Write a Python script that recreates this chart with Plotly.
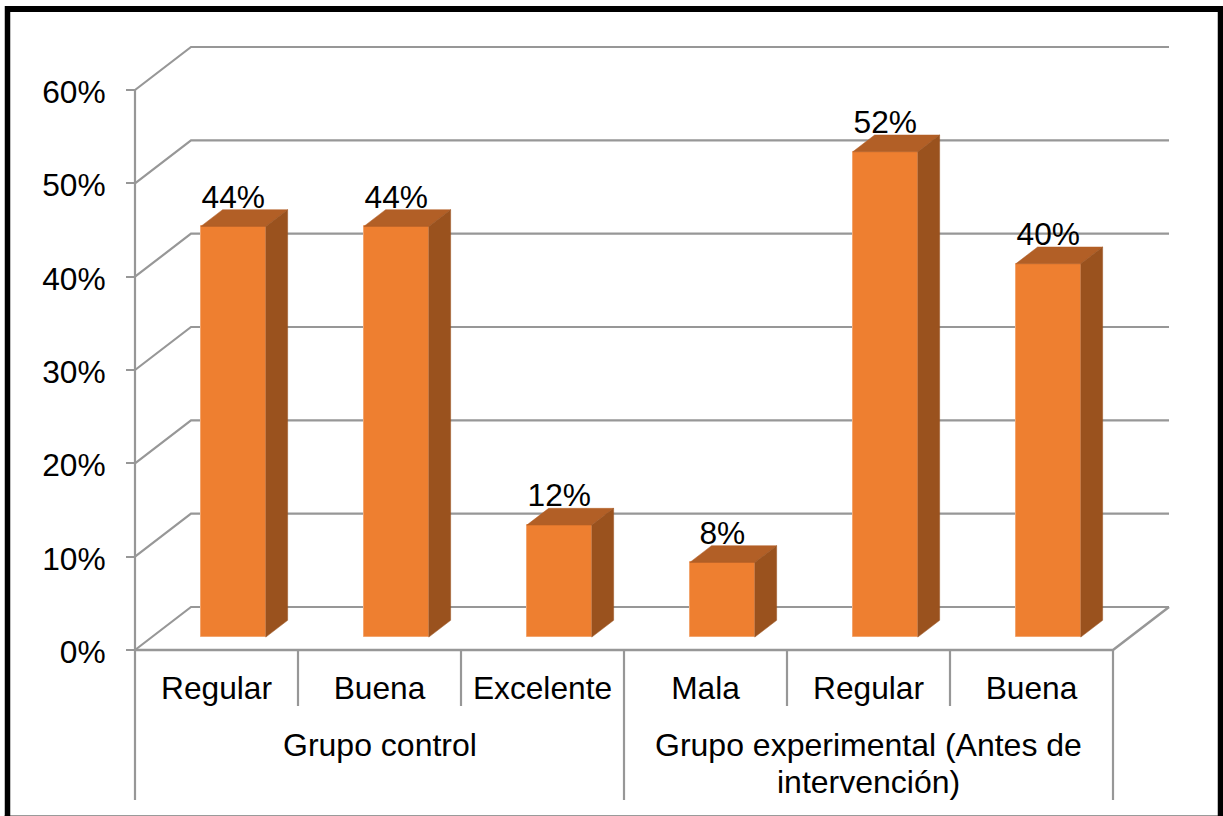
import plotly.graph_objects as go

# Chart data
categories = ["Regular", "Buena", "Excelente", "Mala", "Regular", "Buena"]
values = [44, 44, 12, 8, 52, 40]
group_names = [["Grupo control"], ["Grupo experimental (Antes de", "intervención)"]]
group_spans = [(0, 3), (3, 6)]
y_ticks = [0, 10, 20, 30, 40, 50, 60]

# Page and plot geometry
W, H = 1223, 816
X0_PX, CAT_PX = 135, 163          # left edge of the floor, width of one category
Y0_PX, UNIT_PX = 650, 28 / 3      # baseline, pixels per percentage point
DEPTH_X, DEPTH_Y = 56 / CAT_PX, 43 / UNIT_PX   # oblique projection of the full depth
BAR_W = 65 / CAT_PX
BAR_FRONT, BAR_BACK = 0.30, 0.69  # bar extent along the depth axis
LABEL_RISE = 10 / UNIT_PX         # value label centre above the top of the bar

ORANGE, TOP_SHADE, SIDE_SHADE = "#EE7F30", "#B25F26", "#9A521E"
EDGE = "#F2A56E"
GRID = "#979797"
FONT = "Liberation Sans"
FS = 31.7
FS_GROUP = 32


def proj(x, y, depth=0.0):
    """Project a point at a given depth onto the plane of the axes."""
    return x + depth * DEPTH_X, y + depth * DEPTH_Y


def seg(pts, width=2.2):
    return dict(
        type="path", layer="below", xref="x", yref="y",
        path="M" + "L".join(f"{x:.4f},{y:.4f}" for x, y in pts),
        line=dict(color=GRID, width=width),
    )


n = len(categories)
y_min = y_ticks[0]
shapes = []

# Wall gridlines with their diagonal run-in from the value axis
for t in y_ticks:
    shapes.append(seg([proj(0, t), proj(0, t, 1), proj(n, t, 1)]))

# Floor: front edge and right-hand diagonal
shapes.append(seg([proj(0, y_min), proj(n, y_min), proj(n, y_min, 1)], width=2.5))

# Value axis, category dividers and group dividers
sep_short = -56 / UNIT_PX
sep_long = -150 / UNIT_PX
shapes.append(seg([proj(0, y_ticks[-1]), proj(0, sep_long)]))
for i in range(1, n):
    bottom = sep_long if i == group_spans[0][1] else sep_short
    shapes.append(seg([proj(i, y_min), proj(i, bottom)]))
shapes.append(seg([proj(n, y_min), proj(n, sep_long)]))


# Outer frame, placed in page pixels
def frame(x0, y0, x1, y1, color, width):
    return dict(
        type="line", xref="paper", yref="paper",
        x0=x0 / W, x1=x1 / W, y0=1 - y0 / H, y1=1 - y1 / H,
        line=dict(color=color, width=width),
    )


shapes += [
    frame(4.5, 815.5, 1223, 815.5, "#9a9a9a", 1),
    frame(7.5, 6, 7.5, 816, "#000000", 5.5),
    frame(5, 9, 1223, 9, "#000000", 6),
    frame(1220.5, 6, 1220.5, 816, "#000000", 5.5),
]

fig = go.Figure()

# Front faces of the bars
front_x = [proj(i + 0.5, 0, BAR_FRONT)[0] for i in range(n)]
front_base = proj(0, 0, BAR_FRONT)[1]
fig.add_trace(go.Bar(
    x=front_x, y=values, base=[front_base] * n, width=BAR_W,
    marker=dict(color=ORANGE, line=dict(color=EDGE, width=1)),
    hoverinfo="skip", showlegend=False,
))

# Top and side faces of the bars
for i, v in enumerate(values):
    l, r = i + 0.5 - BAR_W / 2, i + 0.5 + BAR_W / 2
    top = [proj(l, v, BAR_FRONT), proj(r, v, BAR_FRONT), proj(r, v, BAR_BACK), proj(l, v, BAR_BACK)]
    side = [proj(r, 0, BAR_FRONT), proj(r, 0, BAR_BACK), proj(r, v, BAR_BACK), proj(r, v, BAR_FRONT)]
    for face, color in ((top, TOP_SHADE), (side, SIDE_SHADE)):
        xs, ys = zip(*face)
        fig.add_trace(go.Scatter(
            x=list(xs) + [xs[0]], y=list(ys) + [ys[0]],
            mode="lines", fill="toself", fillcolor=color,
            line=dict(color=color, width=0.5),
            hoverinfo="skip", showlegend=False,
        ))

# Value labels sit just above each bar
fig.add_trace(go.Scatter(
    x=front_x,
    y=[proj(0, v, BAR_BACK)[1] + LABEL_RISE for v in values],
    mode="text",
    text=[f"{v}%" for v in values],
    textposition="middle center",
    textfont=dict(family=FONT, size=FS, color="#000000"),
    hoverinfo="skip", showlegend=False,
))

# Group captions below the category labels
annotations = []
for lines, (a, b) in zip(group_names, group_spans):
    for k, line in enumerate(lines):
        annotations.append(dict(
            x=(a + b) / 2, y=(-95 - 37 * k) / UNIT_PX, xref="x", yref="y",
            text=line, showarrow=False, xanchor="center", yanchor="middle",
            font=dict(family=FONT, size=FS_GROUP, color="#000000"),
        ))

fig.update_layout(
    width=W, height=H,
    margin=dict(l=0, r=0, t=0, b=0),
    paper_bgcolor="white", plot_bgcolor="white",
    shapes=shapes, annotations=annotations,
    bargap=0, showlegend=False,
    xaxis=dict(
        range=[-X0_PX / CAT_PX, (W - X0_PX) / CAT_PX],
        domain=[0, 1], anchor="free", position=1 - Y0_PX / H,
        tickmode="array",
        tickvals=[i + 0.5 for i in range(n)],
        ticktext=categories,
        ticks="", showline=False, showgrid=False, zeroline=False,
        tickfont=dict(family=FONT, size=FS, color="#000000"),
        ticklabelstandoff=16,
        tickangle=0,
    ),
    yaxis=dict(
        range=[-(H - Y0_PX) / UNIT_PX, Y0_PX / UNIT_PX],
        domain=[0, 1], anchor="free", position=X0_PX / W,
        tickmode="array",
        tickvals=y_ticks,
        ticktext=[f"{t}%" for t in y_ticks],
        ticks="outside", ticklen=9, tickwidth=2, tickcolor=GRID,
        showline=False, showgrid=False, zeroline=False,
        tickfont=dict(family=FONT, size=FS, color="#000000"),
        ticklabelstandoff=14,
        ticklabelshift=2,
    ),
)

fig.write_html("out.html")
